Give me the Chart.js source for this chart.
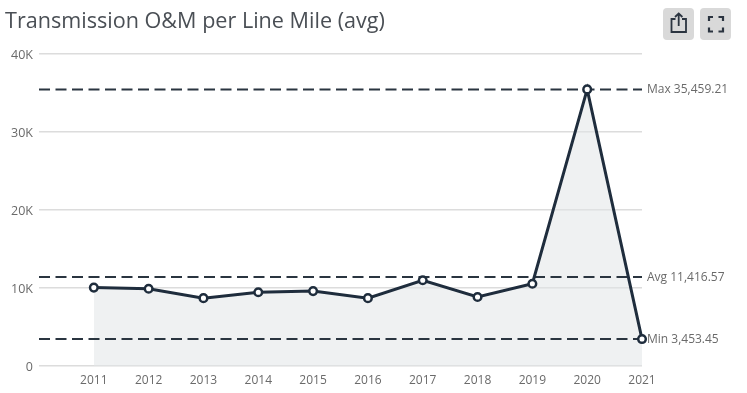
<!DOCTYPE html>
<html>
<head>
<meta charset="utf-8">
<title>Transmission O&amp;M per Line Mile (avg)</title>
<script src="https://cdn.jsdelivr.net/npm/chart.js@4/dist/chart.umd.min.js"></script>
<style>
    html, body { margin: 0; padding: 0; background: #fff; overflow: hidden; }
    #wrap { position: relative; width: 747px; height: 393px; font-family: "Open Sans", sans-serif; }
    #title { position: absolute; left: 5px; top: 5px; font-size: 21.6px; line-height: 30px; color: #4a4f55; white-space: nowrap; }
    .btn { position: absolute; top: 8px; width: 31px; height: 32px; background: #d9d9d9; border-radius: 4px; }
    .btn svg { display: block; width: 31px; height: 32px; }
    canvas { position: absolute; left: 0; top: 0; }
</style>
</head>
<body>
<div id="wrap">
    <canvas id="om-chart" width="747" height="393"></canvas>
    <div id="title">Transmission O&amp;M per Line Mile (avg)</div>
    <div class="btn" style="left:663px">
        <svg viewBox="0 0 31 32" fill="none" stroke="#2b3440" stroke-width="1.8">
            <path d="M12.5 11H8.5V24H23V11H19"/>
            <path d="M15.7 18V5.5M12 9L15.7 5.5L19.4 9"/>
        </svg>
    </div>
    <div class="btn" style="left:700px">
        <svg viewBox="0 0 31 32" fill="none" stroke="#2b3440" stroke-width="2.2">
            <path d="M9 13V9H13M18.5 9H23V13M23 19.5V23.5H18.5M13 23.5H9V19.5"/>
        </svg>
    </div>
</div>
<script>
const years = ['2011', '2012', '2013', '2014', '2015', '2016', '2017', '2018', '2019', '2020', '2021'];
const omValues = [10050, 9900, 8700, 9450, 9600, 8700, 11000, 8850, 10550, 35459.21, 3453.45];
const yTicks = [0, 10000, 20000, 30000, 40000];
const refNames = ['Max', 'Avg', 'Min'];
const refValues = [35459.21, 11416.57, 3453.45];

// blank first slot gives the empty gap left of 2011
const labels = ['', ...years];

const refDatasets = refValues.map((value) => ({
    data: labels.map(() => value),
    borderColor: '#2a3540',
    borderWidth: 2,
    borderDash: [11, 5.5],
    pointRadius: 0,
    fill: false,
    order: 2,
}));

const refLabels = {
    id: 'refLabels',
    afterDatasetsDraw(chart) {
        const { ctx, scales, chartArea } = chart;
        ctx.save();
        ctx.font = '12px "Open Sans", sans-serif';
        ctx.fillStyle = '#6a6a6a';
        ctx.textBaseline = 'middle';
        refValues.forEach((value, i) => {
            const text = `${refNames[i]} ${value.toLocaleString('en-US', { minimumFractionDigits: 2 })}`;
            ctx.fillText(text, chartArea.right + 5, scales.y.getPixelForValue(value) + 0.5);
        });
        ctx.restore();
    },
};

new Chart(document.getElementById('om-chart'), {
    type: 'line',
    data: {
        labels,
        datasets: [
            {
                data: [null, ...omValues],
                borderColor: '#1f2d3d',
                borderWidth: 3,
                backgroundColor: 'rgba(226, 229, 232, 0.55)',
                fill: 'origin',
                tension: 0,
                pointRadius: 3.8,
                pointBorderWidth: 2.5,
                pointBackgroundColor: '#fff',
                pointBorderColor: '#1f2d3d',
                order: 1,
            },
            ...refDatasets,
        ],
    },
    options: {
        responsive: false,
        animation: false,
        events: [],
        layout: { padding: { top: 54, right: 105, bottom: 0, left: 0 } },
        plugins: {
            legend: { display: false },
            tooltip: { enabled: false },
            filler: { drawTime: 'beforeDatasetsDraw' },
        },
        scales: {
            x: {
                offset: false,
                afterFit: (scale) => { scale.height = 27; },
                grid: { display: false, drawTicks: false },
                border: { display: false },
                ticks: {
                    autoSkip: false,
                    maxRotation: 0,
                    padding: 7,
                    color: '#6a6a6a',
                    font: { family: '"Open Sans", sans-serif', size: 12 },
                },
            },
            y: {
                min: 0,
                max: 40000,
                afterFit: (scale) => { scale.width = 39; },
                afterBuildTicks: (scale) => { scale.ticks = yTicks.map((value) => ({ value })); },
                grid: { color: '#dcdcdc', lineWidth: 1.5, drawTicks: false },
                border: { display: false },
                ticks: {
                    padding: 6,
                    labelOffset: 1.5,
                    color: '#6a6a6a',
                    font: { family: '"Open Sans", sans-serif', size: 12.5 },
                    callback: (value) => (value === 0 ? '0' : `${value / 1000}K`),
                },
            },
        },
    },
    plugins: [refLabels],
});
</script>
</body>
</html>
